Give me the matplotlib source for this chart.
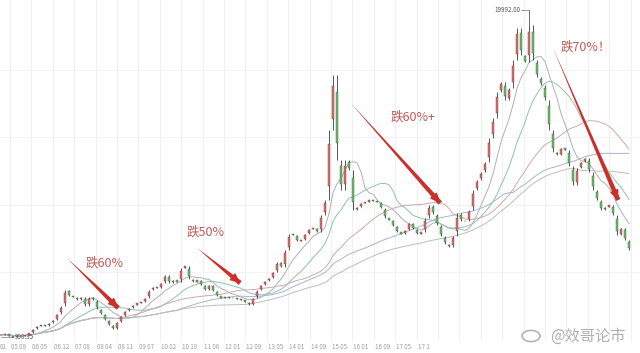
import matplotlib.pyplot as plt
import numpy as np
import pandas as pd
from matplotlib.patches import Ellipse

plt.rcParams['font.family'] = ['Noto Sans CJK SC', 'DejaVu Sans']

# 收盘价 (每根K线), 读图估计
closes = [1116, 1174, 1058, 998.35, 1058, 1058, 1116, 1232, 1465, 1639,
          1697, 1639, 1813, 1987, 2336, 2800, 3730, 3381, 3323, 3149,
          3323, 2800, 3323, 3149, 2626, 2336, 1987, 1697, 1465, 1871,
          2220, 2510, 2684, 2859, 2975, 3033, 3265, 3730, 3904, 3846,
          4136, 4601, 4136, 4311, 4194, 5008, 5124, 4369, 4194, 4311,
          4020, 3730, 4020, 3672, 3381, 3265, 3323, 3265, 3265, 3207,
          3149, 3033, 2859, 3265, 3730, 4020, 4252, 4427, 4775, 5356,
          5066, 6053, 6982, 6924, 6576, 6634, 6982, 7273, 7331, 7098,
          8086, 8957, 13023, 16217, 11280, 9538, 11280, 10699, 8376, 8550,
          8783, 8841, 8957, 8899, 8841, 8492, 7912, 7795, 7447, 7098,
          6982, 7215, 7621, 7273, 6982, 7098, 7912, 8667, 8144, 7505,
          6866, 6401, 6227, 6866, 8202, 7737, 7737, 8376, 9538, 10119,
          10583, 11164, 12558, 13720, 15230, 15810, 14765, 15462, 17088, 18947,
          17379, 16972, 19121, 17088, 16101, 15636, 14765, 13023, 11745, 11571,
          11977, 11861, 10932, 9828, 10816, 11164, 11396, 10583, 9538, 8957,
          8376, 8550, 8667, 8086, 6924, 7331, 6634, 6053]
peak_idx = 132
peak_high = 19992.00
min_idx = 3

ma_windows = [8, 16, 30, 45, 62]
ma_colors = ['#b0b0b0', '#8fc2ad', '#cfaaaa', '#a6b5d0', '#bdbdbd']

tick_labels = ['05 09', '06 05', '06 12', '07 08', '08 04', '08 11', '09 07',
               '10 02', '10 10', '11 06', '12 01', '12 09', '13 05', '14 01',
               '14 09', '15 05', '16 01', '16 09', '17 05', '17 1']

# 标注: 文本, 箭头起点, 箭头终点 (K线序号, 价格)
notes = ['跌60%', '跌50%', '跌60%+', '跌70%！']
note_pos = [(25.8, 5300), (51.2, 7100), (103.0, 13800), (146.2, 17850)]
arrow_from = [(16.5, 5588), (49.0, 6169), (87.2, 14649), (138.0, 17785)]
arrow_to = [(29.3, 2684), (59.8, 4136), (109.8, 8783), (154.3, 8957)]


def px_x(p):
    return (p - 1) / 4.0


def px_y(p):
    return 1000 + (337 - p) * 58.08


fig = plt.figure(figsize=(6.4, 3.53), dpi=100)
ax = fig.add_axes([0, 0, 1, 1])
ax.set_xlim(px_x(0), px_x(640))
ax.set_ylim(px_y(353), px_y(0))
ax.axis('off')

# 网格
for k in range(30):
    gx = px_x(10 + 21.4 * k)
    ax.plot([gx, gx], [px_y(340), px_y(0)], color='#f0f0f0', lw=0.7, zorder=0)
for gy in [70, 137, 205, 272]:
    ax.plot([px_x(0), px_x(640)], [px_y(gy), px_y(gy)], color='#f2f2f2', lw=0.7, zorder=0)

# 日期
ax.text(px_x(0), px_y(347), '01', fontsize=4.5, color='#a0a0a0', va='center', ha='left')
for k, lab in enumerate(tick_labels):
    ax.text(px_x(11 + 21.4 * k), px_y(347), lab, fontsize=4.5, color='#a0a0a0',
            va='center', ha='left')

# 均线
s = pd.Series(closes, dtype=float)
idx = np.arange(len(closes))
for w, c in zip(ma_windows, ma_colors):
    ax.plot(idx, s.rolling(w, min_periods=1).mean(), color=c, lw=0.7, zorder=2)

# K线
opens = np.r_[closes[0], closes[:-1]]
cl = np.array(closes, dtype=float)
up = cl >= opens
lo = np.minimum(opens, cl)
hi = np.maximum(opens, cl)
ax.vlines(idx, lo, hi, color='#3a3a3a', lw=0.6, zorder=3)
ax.bar(idx[up], (hi - lo)[up] * 0.6, bottom=lo[up] + (hi - lo)[up] * 0.2, width=0.35,
       color='#e07070', edgecolor='#6a3a3a', linewidth=0.3, zorder=4)
ax.bar(idx[~up], (hi - lo)[~up] * 0.6, bottom=lo[~up] + (hi - lo)[~up] * 0.2, width=0.35,
       color='#6cbf6c', edgecolor='#3a5a3a', linewidth=0.3, zorder=4)

# 最高/最低
ax.vlines(peak_idx, closes[peak_idx], peak_high, color='#555555', lw=0.6, zorder=3)
ax.plot([peak_idx - 2, peak_idx], [peak_high, peak_high], color='#777777', lw=0.5)
ax.text(peak_idx - 2.2, peak_high, '%.2f' % peak_high, fontsize=4.5, color='#555555',
        ha='right', va='center')
ax.plot([min_idx - 3, min_idx], [closes[min_idx], closes[min_idx]], color='#777777', lw=0.5)
ax.text(min_idx + 0.5, closes[min_idx], '%.2f' % closes[min_idx], fontsize=4.5,
        color='#555555', ha='left', va='center')

# 箭头 (尾细头粗) 和文字
for t, p, a, b in zip(notes, note_pos, arrow_from, arrow_to):
    ax.annotate('', xy=a, xytext=b,
                arrowprops=dict(arrowstyle='wedge,tail_width=0.35,shrink_factor=0.5',
                                color='#c9302c', lw=0, shrinkA=0, shrinkB=0), zorder=6)
    back = (b[0] - (b[0] - a[0]) * 0.12, b[1] - (b[1] - a[1]) * 0.12)
    ax.annotate('', xy=b, xytext=back,
                arrowprops=dict(arrowstyle='-|>,head_length=0.55,head_width=0.25',
                                color='#c9302c', lw=1.2, shrinkA=0, shrinkB=0), zorder=6)
    ax.text(p[0], p[1], t, fontsize=9, color='#c25a55', ha='center', va='center', zorder=6)

# 水印
ax.add_patch(Ellipse((px_x(531), px_y(336)), 4.5, 650, fill=False, ec='#b5b5b5', lw=1.2))
ax.text(px_x(550), px_y(336), '@效哥论市', fontsize=11, color='#b0b0b0',
        ha='left', va='center')

fig.savefig('out.png', dpi=100)
